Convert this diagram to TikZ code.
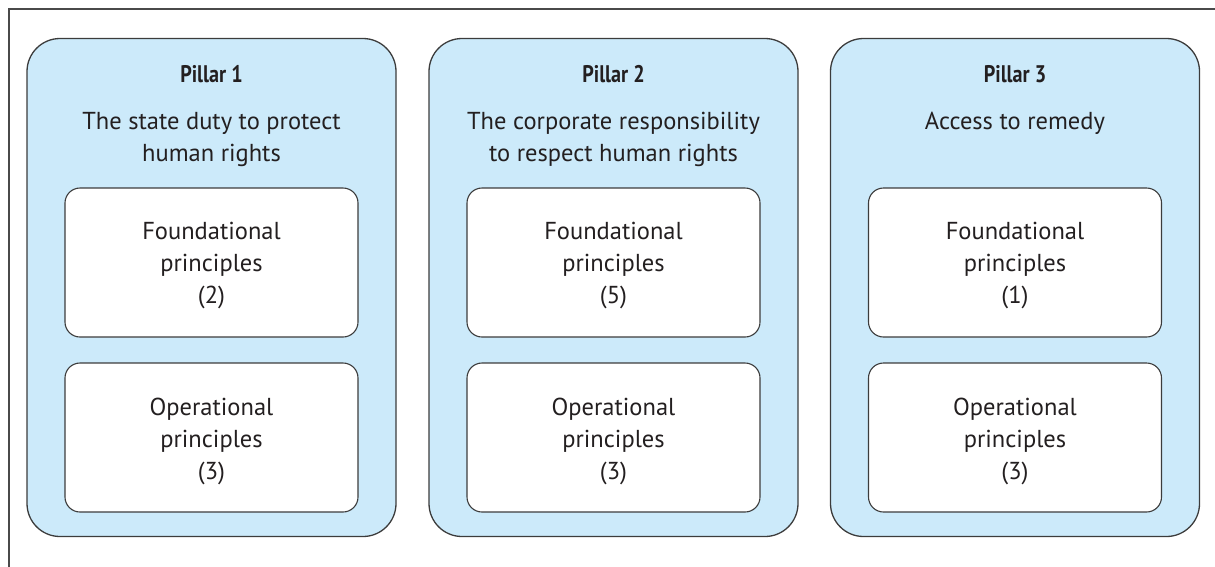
\documentclass[tikz,border=0pt]{standalone}
\usepackage{fontspec}
\setmainfont{PT Sans}
\newfontfamily\headfont[FakeStretch=0.84]{PT Sans}
\definecolor{ink}{HTML}{231F20}
\definecolor{pillarfill}{HTML}{CCEAFA}
\definecolor{edge}{HTML}{3C3C3C}
\definecolor{framegray}{HTML}{4A4A4A}
\tikzset{
  pillarbox/.style={draw=edge, line width=1.3pt, fill=pillarfill, rounded corners=33pt,
    minimum width=369pt, minimum height=498pt, inner sep=0pt},
  groupbox/.style={draw=edge, line width=1.1pt, fill=white, rounded corners=15pt,
    minimum width=293pt, minimum height=149pt, inner sep=0pt},
  boxtext/.style={inner sep=0pt, align=center, text=ink, yshift=-3.5pt,
    font=\fontsize{24.5}{32}\selectfont},
  headtext/.style={anchor=base, inner sep=0pt, text=ink, font=\headfont\bfseries\fontsize{24}{30}\selectfont},
  desctext/.style={anchor=base, inner sep=0pt, text=ink, font=\fontsize{24.5}{30}\selectfont},
}
\begin{document}
\begin{tikzpicture}[x=1pt,y=-1pt]
\useasboundingbox (0,0) rectangle (1215,566);
% open frame: only its top and left edges fall on the page
\coordinate (frameTR) at (1230,8.5);
\coordinate (frameTL) at (8.5,8.5);
\coordinate (frameBL) at (8.5,580);
\draw[framegray, line width=2pt] (frameTR) -- (frameTL) -- (frameBL);

% the three pillars, each with its two groups of principles
\foreach \i/\cx/\head/\la/\lb/\fa/\oa in {
  1/211.5/Pillar 1/The state duty to protect/human rights/2/3,
  2/613.5/Pillar 2/The corporate responsibility/to respect human rights/5/3,
  3/1015/Pillar 3/Access to remedy//1/3} {
  \node[pillarbox] (pillar\i) at (\cx,287.5) {};
  \node[headtext] (head\i) at (\cx,82) {\head};
  \node[desctext] (descA\i) at (\cx,129) {\la};
  \node[desctext] (descB\i) at (\cx,161) {\lb};
  \node[groupbox] (found\i) at (\cx,262.5) {};
  \node[boxtext] (foundtext\i) at (found\i) {Foundational\\principles\\(\fa)};
  \node[groupbox] (oper\i) at (\cx,437.5) {};
  \node[boxtext] (opertext\i) at (oper\i) {Operational\\principles\\(\oa)};
}
\end{tikzpicture}
\end{document}
